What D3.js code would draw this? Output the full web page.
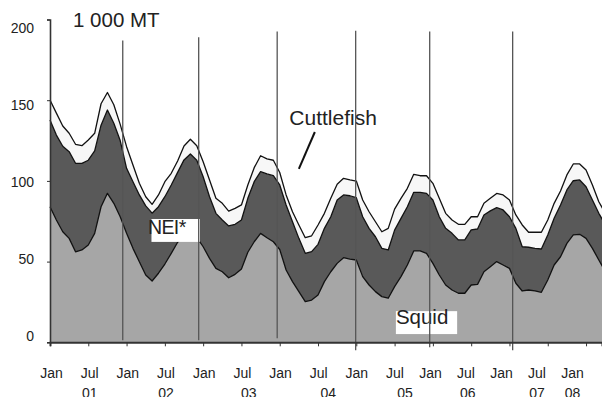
<!DOCTYPE html>
<html>
<head>
<meta charset="utf-8">
<script src="https://cdn.jsdelivr.net/npm/d3@7"></script>
<style>
  html, body { margin: 0; padding: 0; background: #fff; }
  svg { display: block; font-family: "Liberation Sans", Arial, Helvetica, sans-serif; }
</style>
</head>
<body>
<svg id="chart" width="602" height="397"></svg>
<script>
// Monthly catches, thousand tonnes, Jan 2001 onwards (stacked: squid, NEI, cuttlefish)
const squid = [
  84.0, 75.8, 68.5, 64.4, 56.1, 57.2, 60.3, 67.5, 84.0, 92.3, 86.1, 77.8,
  67.5, 58.2, 49.9, 41.7, 38.0, 42.8, 48.5, 55.1, 62.0, 66.0, 67.0, 65.0,
  59.2, 52.0, 45.8, 43.7, 40.0, 42.1, 45.4, 55.8, 62.3, 67.5, 64.8, 62.3,
  57.5, 44.8, 37.6, 31.4, 25.2, 26.2, 29.3, 37.6, 43.7, 48.9, 52.4, 51.6,
  51.0, 40.7, 35.5, 31.4, 28.3, 27.3, 34.5, 40.7, 47.9, 56.6, 56.6, 55.1,
  48.9, 41.7, 35.5, 32.4, 30.4, 30.4, 35.5, 35.9, 43.7, 46.8, 50.0, 47.9,
  45.8, 36.6, 31.8, 32.4, 31.8, 31.0, 38.6, 47.9, 53.0, 61.3, 66.5, 66.9,
  64.4, 58.2, 51.0, 44.0
];
const nei = [
  53.7, 52.6, 53.0, 53.7, 54.8, 53.7, 52.5, 51.1, 50.5, 51.6, 49.6, 47.2,
  40.3, 41.3, 41.4, 42.8, 42.0, 41.2, 41.7, 42.4, 43.3, 47.0, 49.7, 47.8,
  43.4, 38.2, 34.1, 32.1, 32.1, 31.0, 30.4, 33.4, 37.2, 38.2, 39.5, 40.9,
  40.0, 40.3, 37.1, 33.0, 29.9, 30.0, 31.4, 33.0, 34.1, 39.3, 38.9, 39.2,
  38.6, 37.1, 35.1, 34.0, 29.9, 29.9, 35.0, 36.1, 36.1, 36.3, 36.3, 37.2,
  39.3, 36.1, 35.1, 35.1, 33.0, 33.0, 34.1, 34.3, 35.2, 34.6, 33.4, 34.1,
  32.0, 34.0, 27.4, 26.5, 26.4, 26.8, 27.9, 28.9, 32.1, 33.1, 33.6, 33.7,
  32.0, 30.0, 28.9, 29.0
];
const cuttlefish = [
  12.4, 13.6, 12.5, 11.4, 11.8, 10.9, 12.5, 10.9, 13.3, 10.9, 11.5, 10.0,
  13.4, 10.4, 7.2, 5.7, 5.5, 7.3, 9.3, 7.2, 7.0, 8.6, 9.1, 9.0,
  9.3, 10.4, 9.3, 10.3, 9.2, 9.9, 9.3, 8.3, 8.7, 9.9, 9.3, 9.6,
  7.7, 6.2, 6.2, 8.3, 9.7, 9.8, 12.0, 9.3, 11.4, 9.7, 10.3, 9.8,
  10.3, 10.4, 10.3, 9.3, 10.3, 13.4, 13.0, 12.4, 11.4, 11.2, 10.3, 10.9,
  10.3, 11.4, 9.3, 8.3, 9.7, 9.7, 8.2, 7.6, 7.2, 7.8, 8.8, 9.3,
  10.4, 8.3, 13.5, 9.3, 10.0, 10.4, 9.3, 9.3, 8.6, 9.3, 10.4, 9.9,
  10.4, 9.3, 7.2, 7.0
];

const seriesKeys = ["squid", "nei", "cuttlefish"];
const seriesLabels = ["Squid", "NEI*", "Cuttlefish"];
const unitLabel = "1 000 MT";

// Axis ticks: value axis, half-year ticks (month index from Jan 2001)
const yTicks = [0, 50, 100, 150, 200];
const monthTicks = [0, 6, 12, 18, 24, 30, 36, 42, 48, 54, 60, 66, 72, 78, 84];
const monthTickLabels = ["Jan", "Jul", "Jan", "Jul", "Jan", "Jul", "Jan", "Jul",
                         "Jan", "Jul", "Jan", "Jul", "Jan", "Jul", "Jan"];
const yearLabels = ["01", "02", "03", "04", "05", "06", "07", "08"];
const yearLabelMonths = [6, 18, 31, 43.5, 55.7, 66.3, 78, 84];

// Year separators (month index, top and bottom value)
const yearMarkMonths = [11.4, 23.3, 35.6, 47.9, 59.5, 72.5];
const yearMarkTops = [187, 189, 192.5, 193, 192.5, 192.5];
const yearMarkBottoms = [1.2, 1.2, 2.5, -5, -3, -5];

const svg = d3.select("#chart");

const x = d3.scaleLinear().domain([0, 86.5]).range([50, 602]);
const y = d3.scaleLinear().domain([0, 200]).range([342.3, 19.5]);
// label rows of both axes are set slightly apart from the tick marks
const yLabelPos = d3.scaleLinear().domain([0, 200]).range([335.5, 28]);
const xLabelPos = d3.scaleLinear().domain([0, 54, 84]).range([51.5, 395, 572.5]);

const rows = squid.map((s, i) => ({ squid: s, nei: nei[i], cuttlefish: cuttlefish[i] }));
const stacked = d3.stack().keys(seriesKeys)(rows);

const fills = { squid: "#a6a6a6", nei: "#595959", cuttlefish: "#f7f7f7" };

const area = d3.area()
  .x((d, i) => x(i))
  .y0(d => y(d[0]))
  .y1(d => y(d[1]));
const edge = d3.line()
  .x((d, i) => x(i))
  .y(d => y(d[1]));

const plot = svg.append("g");
plot.selectAll("path.layer")
  .data(stacked)
  .join("path")
  .attr("class", "layer")
  .attr("fill", d => fills[d.key])
  .attr("d", area);

plot.selectAll("path.edge")
  .data(stacked)
  .join("path")
  .attr("class", "edge")
  .attr("fill", "none")
  .attr("stroke", "#111")
  .attr("stroke-width", 1.3)
  .attr("stroke-linejoin", "round")
  .attr("d", edge);

// Label boxes for NEI* and Squid
const labelG = svg.append("g");
labelG.append("rect")
  .attr("x", x(15.9)).attr("y", y(76.4))
  .attr("width", x(23.5) - x(15.9)).attr("height", y(62.2) - y(76.4))
  .attr("fill", "#fff");
labelG.append("rect")
  .attr("x", x(54.2)).attr("y", y(19.3))
  .attr("width", x(63.8) - x(54.2)).attr("height", y(5.1) - y(19.3))
  .attr("fill", "#fff");

// Year separator lines
svg.append("g")
  .selectAll("line")
  .data(yearMarkMonths)
  .join("line")
  .attr("x1", d => x(d)).attr("x2", d => x(d))
  .attr("y1", (d, i) => y(yearMarkTops[i]))
  .attr("y2", (d, i) => y(yearMarkBottoms[i]))
  .attr("stroke", "#555")
  .attr("stroke-width", 1.3);

// Cuttlefish callout box, text and pointer
labelG.append("rect")
  .attr("x", x(37.2)).attr("y", y(150.5))
  .attr("width", x(51.8) - x(37.2)).attr("height", y(137) - y(150.5))
  .attr("fill", "#fff");

labelG.append("text")
  .attr("x", x(37.5)).attr("y", y(134.8))
  .attr("font-size", 21).attr("fill", "#222")
  .text(seriesLabels[2]);
labelG.append("line")
  .attr("x1", x(41.5)).attr("y1", y(130.3))
  .attr("x2", x(39.0)).attr("y2", y(107.4))
  .attr("stroke", "#111").attr("stroke-width", 2);

labelG.append("text")
  .attr("x", x(15.35)).attr("y", y(67.4))
  .attr("font-size", 19.5).attr("fill", "#222")
  .attr("letter-spacing", -0.6)
  .text(seriesLabels[1]);

labelG.append("text")
  .attr("x", x(54.2)).attr("y", y(11.3))
  .attr("font-size", 20.5).attr("fill", "#222")
  .text(seriesLabels[0]);

svg.append("text")
  .attr("x", 73).attr("y", 27)
  .attr("font-size", 20.5).attr("fill", "#222")
  .text(unitLabel);

// Value axis
const yAxis = d3.axisLeft(y).tickValues(yTicks).tickSize(3).tickFormat("");
const yg = svg.append("g").attr("transform", "translate(50,0)").call(yAxis);
yg.select(".domain").attr("stroke", "#333").attr("stroke-width", 1.6);
yg.selectAll(".tick line").attr("stroke", "#333");
svg.append("g")
  .selectAll("text")
  .data(yTicks)
  .join("text")
  .attr("x", 34).attr("y", d => yLabelPos(d))
  .attr("dy", "0.36em")
  .attr("text-anchor", "end")
  .attr("font-size", 14).attr("fill", "#222")
  .text(d => d);

// Time axis
const xAxis = d3.axisBottom(x).tickValues(monthTicks).tickSize(4).tickFormat("");
const xg = svg.append("g").attr("transform", "translate(0,342.3)").call(xAxis);
xg.select(".domain").attr("stroke", "#333").attr("stroke-width", 2);
xg.selectAll(".tick line").attr("stroke", "#333");

svg.append("g")
  .selectAll("text")
  .data(monthTicks)
  .join("text")
  .attr("x", d => xLabelPos(d)).attr("y", 378)
  .attr("text-anchor", "middle")
  .attr("font-size", 14).attr("fill", "#222")
  .text((d, i) => monthTickLabels[i]);

svg.append("g")
  .selectAll("text")
  .data(yearLabelMonths)
  .join("text")
  .attr("x", d => xLabelPos(d)).attr("y", 398)
  .attr("text-anchor", "middle")
  .attr("font-size", 14).attr("fill", "#222")
  .text((d, i) => yearLabels[i]);
</script>
</body>
</html>
